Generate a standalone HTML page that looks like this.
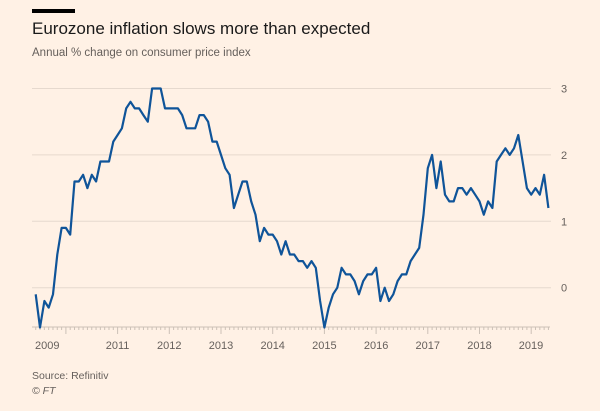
<!DOCTYPE html>
<html><head><meta charset="utf-8"><style>
body{margin:0;background:#fff1e5;width:600px;height:411px;overflow:hidden;font-family:"Liberation Sans",sans-serif}
svg{position:absolute;left:0;top:0}
</style></head><body>
<svg width="600" height="411">
<rect x="32" y="9" width="43" height="4" fill="#000"/>
<text x="32" y="34" font-size="17" fill="#1a1a1a">Eurozone inflation slows more than expected</text>
<text x="32" y="56" font-size="11.5" fill="#66605c">Annual % change on consumer price index</text>
<g id="grid"></g><g id="xaxis"></g>
<path id="line" fill="none" stroke="#0f5499" stroke-width="2.2" stroke-linejoin="round"/>
<text x="32" y="379" font-size="10.5" fill="#66605c">Source: Refinitiv</text>
<text x="32" y="394" font-size="10.5" font-style="italic" fill="#66605c">© FT</text>
</svg>
<script>
const startYear=2009, startMonth=5;
const values=[-0.1,-0.6,-0.2,-0.3,-0.1,0.5,0.9,
0.9,0.8,1.6,1.6,1.7,1.5,1.7,1.6,1.9,1.9,1.9,2.2,
2.3,2.4,2.7,2.8,2.7,2.7,2.6,2.5,3.0,3.0,3.0,2.7,
2.7,2.7,2.7,2.6,2.4,2.4,2.4,2.6,2.6,2.5,2.2,2.2,
2.0,1.8,1.7,1.2,1.4,1.6,1.6,1.3,1.1,0.7,0.9,0.8,
0.8,0.7,0.5,0.7,0.5,0.5,0.4,0.4,0.3,0.4,0.3,-0.2,
-0.6,-0.3,-0.1,0.0,0.3,0.2,0.2,0.1,-0.1,0.1,0.2,0.2,
0.3,-0.2,0.0,-0.2,-0.1,0.1,0.2,0.2,0.4,0.5,0.6,1.1,
1.8,2.0,1.5,1.9,1.4,1.3,1.3,1.5,1.5,1.4,1.5,1.4,
1.3,1.1,1.3,1.2,1.9,2.0,2.1,2.0,2.1,2.3,1.9,1.5,
1.4,1.5,1.4,1.7,1.2];
const yTicks=[0,1,2,3];
const xTickYears=[2009,2011,2012,2013,2014,2015,2016,2017,2018,2019];
const NS="http://www.w3.org/2000/svg";
const x0=14.2,mw=51.7/12;
function xs(m){return x0+m*mw;}
function ys(v){return 287.7-v*66.4;}
const grid=document.getElementById('grid');
yTicks.forEach(t=>{
 const l=document.createElementNS(NS,'line');
 
 
 l.setAttribute('x1',32);l.setAttribute('x2',551);l.setAttribute('y1',ys(t));l.setAttribute('y2',ys(t));
 l.setAttribute('stroke','#e6d9ce');l.setAttribute('stroke-width','1');grid.appendChild(l);
 const tx=document.createElementNS(NS,'text');
 
 
 tx.setAttribute('x',561);tx.setAttribute('y',ys(t)+4);tx.setAttribute('font-size','11');tx.setAttribute('fill','#66605c');
 tx.textContent=t;grid.appendChild(tx);
});
const xa=document.getElementById('xaxis');
const base=327;
const al=document.createElementNS(NS,'line');


al.setAttribute('x1',32);al.setAttribute('x2',550);al.setAttribute('y1',base);al.setAttribute('y2',base);al.setAttribute('stroke','#ccc1b7');xa.appendChild(al);
for(let m=startMonth;m<=startMonth+values.length-1;m++){
 const t=document.createElementNS(NS,'line');
 
 
 const x=xs(m);t.setAttribute('x1',x);t.setAttribute('x2',x);t.setAttribute('y1',base);t.setAttribute('y2',base+(m%12==0?7:3));
 t.setAttribute('stroke','#ccc1b7');xa.appendChild(t);
}
xTickYears.forEach(y=>{
 const tx=document.createElementNS(NS,'text');
 
 
 let x=xs((y-2009)*12);
 if(y==2009){x=35;tx.setAttribute('text-anchor','start');} else tx.setAttribute('text-anchor','middle');
 if(y==2019){x=531;}
 tx.setAttribute('x',x);tx.setAttribute('y',349);tx.setAttribute('font-size','11');tx.setAttribute('fill','#66605c');
 tx.textContent=y;xa.appendChild(tx);
});
document.getElementById('line').setAttribute('d',values.map((v,i)=>(i?'L':'M')+xs(startMonth+i).toFixed(1)+','+ys(v).toFixed(1)).join(''));
</script>
</body></html>
